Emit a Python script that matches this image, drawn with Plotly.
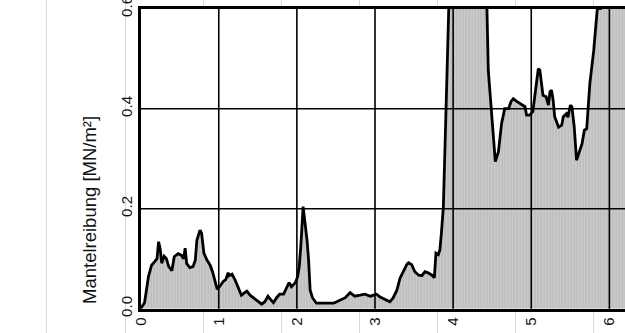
import plotly.graph_objects as go

# Skin friction profile (MN/m²) along the measuring axis
position = [
    0.00, 0.05, 0.10, 0.14, 0.18, 0.21, 0.23, 0.25, 0.27, 0.30, 0.33, 0.36, 0.40,
    0.43, 0.48, 0.52, 0.55, 0.57, 0.59, 0.63, 0.67, 0.70, 0.72, 0.76, 0.78, 0.81,
    0.85, 0.89, 0.92, 0.96, 0.98, 1.01, 1.06, 1.09, 1.12, 1.13, 1.17, 1.21, 1.25,
    1.29, 1.34, 1.36, 1.40, 1.45, 1.51, 1.55, 1.59, 1.63, 1.66, 1.70, 1.74, 1.78,
    1.83, 1.87, 1.90, 1.93, 1.98, 2.01, 2.03, 2.05, 2.08, 2.10, 2.13, 2.15, 2.17,
    2.20, 2.25, 2.32, 2.38, 2.47, 2.51, 2.55, 2.62, 2.68, 2.74, 2.81, 2.87, 2.94,
    3.00, 3.02, 3.06, 3.13, 3.19, 3.23, 3.28, 3.32, 3.36, 3.41, 3.43, 3.47, 3.51,
    3.56, 3.60, 3.64, 3.68, 3.73, 3.76, 3.78, 3.81, 3.83, 3.85, 3.875, 3.895, 3.91,
    3.92, 3.94, 3.97, 4.05, 4.20, 4.35, 4.43, 4.45, 4.49, 4.54, 4.58, 4.62, 4.66,
    4.71, 4.74, 4.77, 4.81, 4.88, 4.92, 4.94, 4.98, 5.02, 5.05, 5.09, 5.11, 5.15,
    5.19, 5.22, 5.24, 5.26, 5.28, 5.30, 5.35, 5.39, 5.41, 5.45, 5.47, 5.50, 5.52,
    5.55, 5.58, 5.62, 5.65, 5.68, 5.71, 5.75, 5.80, 5.84, 5.86, 5.885, 5.91, 5.95,
    6.00, 6.10, 6.20,
]
friction = [
    0.000, 0.012, 0.064, 0.087, 0.094, 0.100, 0.134, 0.120, 0.091, 0.105, 0.100, 0.084, 0.076,
    0.104, 0.110, 0.107, 0.100, 0.121, 0.090, 0.082, 0.084, 0.097, 0.137, 0.157, 0.151, 0.111,
    0.097, 0.087, 0.074, 0.051, 0.039, 0.044, 0.055, 0.058, 0.072, 0.066, 0.069, 0.057, 0.041,
    0.027, 0.033, 0.035, 0.027, 0.021, 0.014, 0.009, 0.014, 0.025, 0.019, 0.012, 0.022, 0.029,
    0.029, 0.043, 0.052, 0.044, 0.052, 0.064, 0.084, 0.124, 0.204, 0.177, 0.137, 0.097, 0.037,
    0.022, 0.011, 0.011, 0.011, 0.011, 0.014, 0.017, 0.022, 0.032, 0.025, 0.027, 0.029, 0.025,
    0.027, 0.029, 0.024, 0.019, 0.014, 0.021, 0.037, 0.061, 0.074, 0.089, 0.092, 0.088, 0.074,
    0.067, 0.066, 0.074, 0.072, 0.067, 0.062, 0.111, 0.108, 0.117, 0.151, 0.204, 0.317, 0.450,
    0.550, 0.630, 0.750, 0.850, 0.900, 0.800, 0.620, 0.477, 0.397, 0.294, 0.314, 0.370, 0.400,
    0.400, 0.414, 0.420, 0.415, 0.407, 0.404, 0.387, 0.387, 0.394, 0.430, 0.480, 0.477, 0.427,
    0.424, 0.407, 0.434, 0.437, 0.417, 0.384, 0.363, 0.367, 0.384, 0.390, 0.383, 0.407, 0.404,
    0.364, 0.297, 0.317, 0.330, 0.357, 0.360, 0.450, 0.517, 0.590, 0.620, 0.598, 0.640, 0.700,
    0.800, 0.900, 0.950,
]

x_ticks = [0, 1, 2, 3, 4, 5, 6]
y_ticks = [0.0, 0.2, 0.4, 0.6]
y_ticktext = ["0.0", "0.2", "0.4", "0.6"]
y_title = "Mantelreibung [MN/m²]"

X_RANGE = [0, 6.2]
Y_RANGE = [0, 0.60001]
BACK_RANGE = [-1.8, 6.2]  # same unit length as X_RANGE over the full width

FONT = "Liberation Sans, Arial, sans-serif"

fig = go.Figure()

# empty trace so the full-page background axis gets drawn
fig.add_trace(go.Scatter(x=[], y=[], xaxis="x", yaxis="y",
                         showlegend=False, hoverinfo="skip"))

# friction curve with hatched grey fill underneath
fig.add_trace(go.Scatter(
    x=position, y=friction, xaxis="x2", yaxis="y2",
    mode="lines",
    line=dict(color="black", width=2.8),
    fill="tozeroy",
    fillcolor="#c8c8c8",
    fillpattern=dict(shape="|", bgcolor="#cacaca", fgcolor="#b6b6b6",
                     size=3, solidity=0.3),
    showlegend=False, hoverinfo="skip",
))

# black grid on top of the fill
grid_shapes = []
for v in x_ticks[1:]:
    grid_shapes.append(dict(type="line", layer="above", xref="x2", yref="y2 domain",
                            x0=v, x1=v, y0=0, y1=1,
                            line=dict(color="black", width=1.6)))
for v in y_ticks[1:-1]:
    grid_shapes.append(dict(type="line", layer="above", xref="x2 domain", yref="y2",
                            x0=0, x1=1, y0=v, y1=v,
                            line=dict(color="black", width=1.6)))

fig.update_layout(
    template="none",
    width=625, height=333, autosize=False,
    margin=dict(l=0, r=0, t=0, b=0, pad=0),
    paper_bgcolor="white", plot_bgcolor="white",
    font=dict(family=FONT, size=15, color="#111111"),
    showlegend=False,
    xaxis=dict(domain=[0, 1], range=BACK_RANGE, showgrid=True, automargin=False,
               gridcolor="#d9d9d9", gridwidth=1, tick0=0.8, dtick=1,
               showticklabels=False, ticks="", zeroline=False, showline=False,
               fixedrange=True),
    yaxis=dict(domain=[0, 1], range=[0, 1], visible=False, showgrid=False,
               automargin=False, zeroline=False, fixedrange=True),
    xaxis2=dict(domain=[0.225, 1], anchor="y2", range=X_RANGE, automargin=False,
                tickvals=x_ticks, tickangle=-90, ticks="",
                ticklabeloverflow="allow",
                showgrid=False, zeroline=False,
                showline=True, mirror=True, linecolor="black", linewidth=2.6,
                layer="above traces", tickfont=dict(size=15)),
    yaxis2=dict(domain=[24.3 / 333, 1 - 8.7 / 333], anchor="x2", range=Y_RANGE,
                automargin=False,
                tickvals=y_ticks, ticktext=y_ticktext, tickangle=-90, ticks="",
                ticklabeloverflow="allow",
                showgrid=False, zeroline=False,
                showline=True, mirror=False, linecolor="black", linewidth=2.6,
                layer="above traces", tickfont=dict(size=15)),
    shapes=grid_shapes,
    annotations=[dict(text=y_title, textangle=-90, showarrow=False,
                      xref="paper", yref="paper", x=89 / 625, y=123 / 333,
                      xanchor="center", yanchor="middle",
                      font=dict(size=18.5, family=FONT, color="#111111"))],
)

fig.write_html("out.html")
